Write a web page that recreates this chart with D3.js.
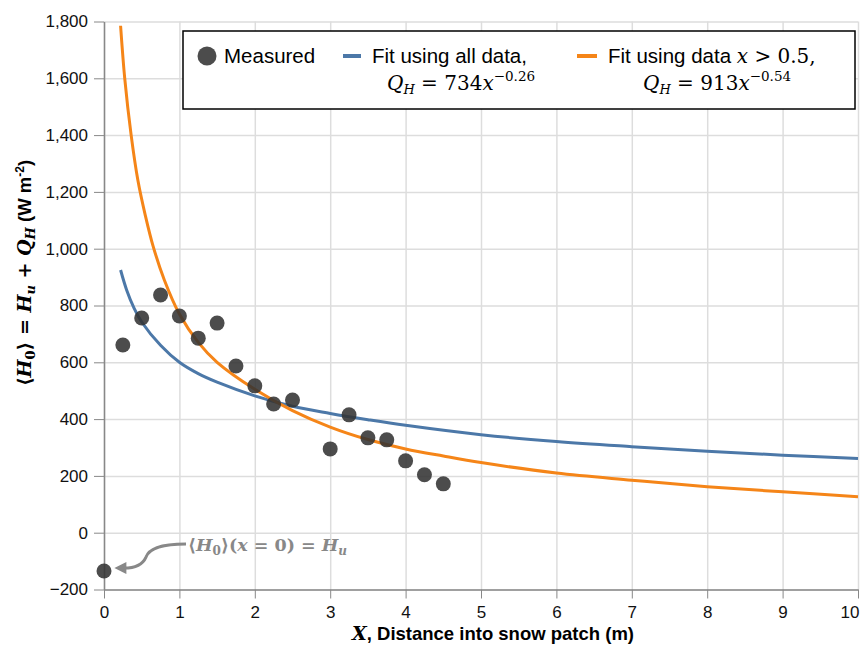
<!DOCTYPE html>
<html>
<head>
<meta charset="utf-8">
<script src="https://cdn.jsdelivr.net/npm/d3@7"></script>
<style>
  body { margin: 0; background: #fff; }
  svg { font-family: "Liberation Sans", Arial, sans-serif; }
  .axis .domain, .axis line { stroke: #888; }
  .axis text { font-size: 17px; fill: #111; }
  .grid line { stroke: #ddd; stroke-width: 1.5; }
  .grid .domain { display: none; }
</style>
</head>
<body>
<div id="graf"></div>
<script>
// Datos
const medidoX = [0, 0.25, 0.5, 0.75, 1, 1.25, 1.5, 1.75, 2, 2.25, 2.5, 3, 3.25, 3.5, 3.75, 4, 4.25, 4.5]
const medidoY = [-135, 661, 756, 837, 763, 685, 738, 587, 517, 453, 467, 295, 415, 334, 327, 253, 204, 172]

const ajusteTodoX = [0.22, 0.3, 0.4, 0.5, 0.75, 1, 1.25, 1.5, 2, 2.5, 3, 3.5, 4, 5, 6, 7, 8, 9, 10]
const ajusteTodoY = [925, 855, 790, 742, 660, 600, 560, 530, 482, 445, 420, 398, 378, 345, 321, 303, 287, 273, 261]

const ajusteMitadX = [0.22, 0.275, 0.36, 0.45, 0.55, 0.65, 0.8, 1, 1.25, 1.5, 2, 2.5, 3, 3.5, 4, 4.5, 5, 6, 7, 8, 9, 10]
const ajusteMitadY = [1785, 1600, 1400, 1240, 1115, 1010, 890, 770, 670, 600, 505, 430, 372, 328, 295, 270, 247, 210, 185, 162, 144, 127]

const ticksX = [0, 1, 2, 3, 4, 5, 6, 7, 8, 9, 10]
const ticksY = [-200, 0, 200, 400, 600, 800, 1000, 1200, 1400, 1600, 1800]

// Dimensiones
const anchoTotal = 861
const altoTotal = 647
const margins = { top: 21.5, right: 3, bottom: 57.5, left: 104 }
const ancho = anchoTotal - margins.left - margins.right
const alto = altoTotal - margins.top - margins.bottom

const svg = d3.select('#graf').append('svg')
    .attr('width', anchoTotal)
    .attr('height', altoTotal)

const g = svg.append('g')
    .attr('transform', `translate(${margins.left}, ${margins.top})`)

// Escaladores
const x = d3.scaleLinear().domain([0, 10]).range([0, ancho])
const y = d3.scaleLinear().domain([-200, 1800]).range([alto, 0])

// Rejilla
g.append('g').attr('class', 'grid')
    .call(d3.axisBottom(x).tickValues(ticksX).tickSize(alto).tickFormat(''))
g.append('g').attr('class', 'grid')
    .call(d3.axisLeft(y).tickValues(ticksY).tickSize(-ancho).tickFormat(''))

// Ejes
const fmt = d3.format(',')
g.append('g').attr('class', 'axis')
    .attr('transform', `translate(0, ${alto})`)
    .call(d3.axisBottom(x).tickValues(ticksX).tickSize(9).tickPadding(7).tickSizeOuter(0))
    .call(a => a.select('.domain').attr('stroke-width', 1.5))
    .call(a => a.selectAll('.tick text').filter(d => d === 10).attr('text-anchor', 'end').attr('x', 1))
g.append('g').attr('class', 'axis')
    .call(d3.axisLeft(y).tickValues(ticksY).tickSize(10).tickPadding(6).tickFormat(fmt).tickSizeOuter(0))
    .call(a => a.select('.domain').attr('stroke-width', 1.5))

// Lineas
const linea = (xs, ys) => d3.line()
    .x((d, i) => x(xs[i]))
    .y((d) => y(d))
    .curve(d3.curveCatmullRom.alpha(0.5))(ys)

g.append('path')
    .attr('d', linea(ajusteTodoX, ajusteTodoY))
    .attr('fill', 'none')
    .attr('stroke', '#4c78a8')
    .attr('stroke-width', 3)

g.append('path')
    .attr('d', linea(ajusteMitadX, ajusteMitadY))
    .attr('fill', 'none')
    .attr('stroke', '#f58518')
    .attr('stroke-width', 3)

// Puntos
g.selectAll('circle.medido')
    .data(medidoY)
    .enter()
    .append('circle')
    .attr('class', 'medido')
    .attr('cx', (d, i) => x(medidoX[i]))
    .attr('cy', (d) => y(d))
    .attr('r', 7.5)
    .attr('fill', '#333')
    .attr('fill-opacity', 0.88)

// Texto enriquecido: partes {t, f, s (desplazamiento), z (tamaño)}
const serif = '"DejaVu Serif", "Liberation Serif", serif'
const rico = (sel, partes) => {
    let prev = 0
    partes.forEach(p => {
        const s = p.s || 0
        const ts = sel.append('tspan').text(p.t)
        if (s - prev !== 0) ts.attr('dy', s - prev)
        prev = s
        if (p.f === 'mi') ts.attr('font-family', serif).attr('font-style', 'italic')
        if (p.f === 'm') ts.attr('font-family', serif)
        if (p.z) ts.attr('font-size', p.z)
    })
}

// Titulos de ejes
const tituloX = svg.append('text')
    .attr('x', margins.left + ancho / 2 + 12)
    .attr('y', 640)
    .attr('text-anchor', 'middle')
    .attr('font-size', 18.5)
    .attr('font-weight', 'bold')
rico(tituloX, [
    { t: 'X', f: 'mi', z: 19 },
    { t: ', Distance into snow patch (m)' }
])

const tituloY = svg.append('text')
    .attr('transform', 'translate(31, 273) rotate(-90)')
    .attr('text-anchor', 'middle')
    .attr('font-size', 18.5)
    .attr('font-weight', 'bold')
rico(tituloY, [
    { t: '\u27e8', f: 'm', z: 19 },
    { t: 'H', f: 'mi', z: 19 },
    { t: '0', f: 'm', z: 13, s: 4 },
    { t: '\u27e9 = ', f: 'm', z: 19 },
    { t: 'H', f: 'mi', z: 19 },
    { t: 'u', f: 'mi', z: 13, s: 4 },
    { t: ' + ', f: 'm', z: 19 },
    { t: 'Q', f: 'mi', z: 19 },
    { t: 'H', f: 'mi', z: 13, s: 4 },
    { t: ' (W m' },
    { t: '-2', z: 12, s: -7 },
    { t: ')', s: 0 }
])

// Leyenda
const ley = svg.append('g').attr('font-size', 20.5)
ley.append('rect')
    .attr('x', 183).attr('y', 31)
    .attr('width', 672).attr('height', 78)
    .attr('fill', 'white')
    .attr('stroke', '#000')
    .attr('stroke-width', 1.5)

ley.append('circle')
    .attr('cx', 207).attr('cy', 56).attr('r', 9.5)
    .attr('fill', '#333').attr('fill-opacity', 0.88)
ley.append('text').attr('x', 224).attr('y', 63).text('Measured')

ley.append('rect').attr('x', 343).attr('y', 54).attr('width', 18).attr('height', 4).attr('fill', '#4c78a8')
ley.append('text').attr('x', 372).attr('y', 63).text('Fit using all data,')
rico(ley.append('text').attr('x', 387).attr('y', 90), [
    { t: 'Q', f: 'mi', z: 20 },
    { t: 'H', f: 'mi', z: 13, s: 4 },
    { t: ' = 734', f: 'm', z: 20, s: 0 },
    { t: 'x', f: 'mi', z: 20 },
    { t: '\u22120.26', f: 'm', z: 13.5, s: -9 }
])

ley.append('rect').attr('x', 577).attr('y', 54).attr('width', 20).attr('height', 4).attr('fill', '#f58518')
rico(ley.append('text').attr('x', 608).attr('y', 63), [
    { t: 'Fit using data ' },
    { t: 'x', f: 'mi', z: 20 },
    { t: ' > 0.5,', f: 'm', z: 20 }
])
rico(ley.append('text').attr('x', 643).attr('y', 90), [
    { t: 'Q', f: 'mi', z: 20 },
    { t: 'H', f: 'mi', z: 13, s: 4 },
    { t: ' = 913', f: 'm', z: 20, s: 0 },
    { t: 'x', f: 'mi', z: 20 },
    { t: '\u22120.54', f: 'm', z: 13.5, s: -9 }
])

// Anotacion
const px = margins.left + x(medidoX[0])
const py = margins.top + y(medidoY[0])
svg.append('defs').append('marker')
    .attr('id', 'flecha')
    .attr('viewBox', '0 0 10 10')
    .attr('refX', 2).attr('refY', 5)
    .attr('markerWidth', 4.5).attr('markerHeight', 4)
    .attr('orient', 'auto-start-reverse')
    .append('path').attr('d', 'M0,0 L10,5 L0,10 Z').attr('fill', '#888')

svg.append('path')
    .attr('d', `M${px + 82},${py - 27} C${px + 55},${py - 27} ${px + 45},${py - 22} ${px + 42},${py - 14} C${px + 38},${py - 5} ${px + 28},${py - 3} ${px + 20},${py - 3}`)
    .attr('fill', 'none')
    .attr('stroke', '#888')
    .attr('stroke-width', 3)
    .attr('marker-end', 'url(#flecha)')

rico(svg.append('text').attr('x', px + 84).attr('y', py - 20)
    .attr('fill', '#888').attr('font-weight', 'bold').attr('font-size', 17.5), [
    { t: '\u27e8', f: 'm', z: 17.5 },
    { t: 'H', f: 'mi', z: 17.5 },
    { t: '0', f: 'm', z: 12, s: 4 },
    { t: '\u27e9(', f: 'm', z: 17.5, s: 0 },
    { t: 'x', f: 'mi', z: 17.5 },
    { t: ' = 0) = ', f: 'm', z: 17.5 },
    { t: 'H', f: 'mi', z: 17.5 },
    { t: 'u', f: 'mi', z: 12, s: 4 }
])
</script>
</body>
</html>
